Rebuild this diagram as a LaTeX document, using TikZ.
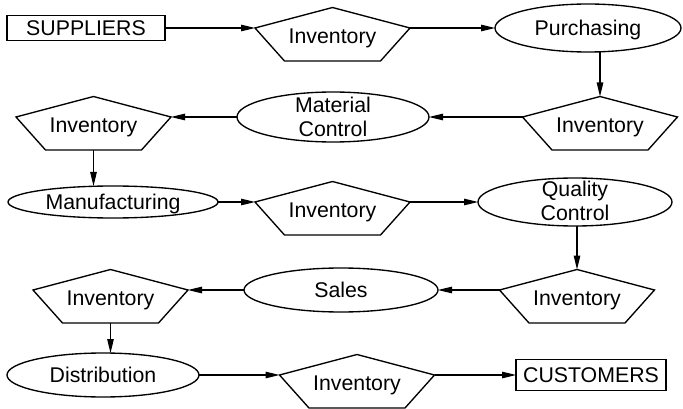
\documentclass[tikz,border=0pt]{standalone}
\usepackage{fontspec}
\setmainfont{Liberation Sans}
\usetikzlibrary{shapes.geometric,arrows.meta}

% Inventory pentagon: name, centre x, y of the side corners
\newcommand\invpent[3]{%
  \coordinate (#1-t)  at ({#2},{#3-20.5});
  \coordinate (#1-r)  at ({#2+77.5},{#3});
  \coordinate (#1-br) at ({#2+48},{#3+33});
  \coordinate (#1-b)  at ({#2},{#3+33});
  \coordinate (#1-bl) at ({#2-48},{#3+33});
  \coordinate (#1-l)  at ({#2-77.5},{#3});
  \draw[line join=miter] (#1-t) -- (#1-r) -- (#1-br) -- (#1-bl) -- (#1-l) -- cycle;
  \node[oneline] (#1) at ({#2},{#3+7.5}) {Inventory};
}

\begin{document}
\fontsize{21.3}{24}\selectfont
\begin{tikzpicture}[x=1pt,y=-1pt,
  line width=1.35pt,
  flow/.style={-{Triangle[length=14pt,width=6.5pt]}, line width=1.2pt},
  oval/.style={ellipse, draw, inner sep=0pt, outer sep=0pt},
  endbox/.style={rectangle, draw, inner sep=0pt, outer sep=0pt,
                 text height=0.72em, text depth=0pt},
  oneline/.style={inner sep=0pt, text height=0.72em, text depth=0pt},
  twoline/.style={inner sep=0pt, align=center}]
\useasboundingbox (0,0) rectangle (683,409);

% row 1
\node[endbox, minimum width=158pt, minimum height=25pt] (sup) at (86,28) {SUPPLIERS};
\invpent{p1}{332.5}{28}
\node[oval, minimum width=186pt, minimum height=48pt] (pur) at (588,28) {};
\node[oneline] (pur-text) at (pur) {Purchasing};

% row 2
\invpent{p2}{600}{117}
\node[oval, minimum width=192pt, minimum height=50pt] (mc) at (333,117) {};
\node[twoline] (mc-text) at (mc) {Material\\Control};
\invpent{p3}{93.5}{117}

% row 3
\node[oval, minimum width=210pt, minimum height=32pt] (mfg) at (113,202) {};
\node[oneline] (mfg-text) at (mfg) {Manufacturing};
\invpent{p4}{332.5}{202}
\node[oval, minimum width=194pt, minimum height=48pt] (qc) at (575,202) {};
\node[twoline] (qc-text) at ([yshift=1pt]qc.center) {Quality\\Control};

% row 4
\invpent{p5}{577}{290}
\node[oval, minimum width=194pt, minimum height=44pt] (sales) at (341,290) {};
\node[oneline] (sales-text) at (sales) {Sales};
\invpent{p6}{110.5}{290}

% row 5
\node[oval, minimum width=192pt, minimum height=44pt] (dist) at (103,375) {};
\node[oneline] (dist-text) at (dist) {Distribution};
\invpent{p7}{357}{375}
\node[endbox, minimum width=150pt, minimum height=31pt] (cus) at (591,375) {CUSTOMERS};

% flow of material
\draw[flow] (sup.east) -- (p1-l);
\draw[flow] (p1-r) -- (pur.west);
\draw[flow] (p2-t |- pur.south) -- (p2-t);
\draw[flow] (p2-l) -- (mc.east);
\draw[flow] (mc.west) -- (p3-r);
\draw[flow] (p3-b) -- (p3-b |- mfg.north);
\draw[flow] (mfg.east) -- (p4-l);
\draw[flow] (p4-r) -- (qc.west);
\draw[flow] (p5-t |- qc.south) -- (p5-t);
\draw[flow] (p5-l) -- (sales.east);
\draw[flow] (sales.west) -- (p6-r);
\draw[flow] (p6-b) -- (p6-b |- dist.north);
\draw[flow] (dist.east) -- (p7-l);
\draw[flow] (p7-r) -- (cus.west);
\end{tikzpicture}
\end{document}
